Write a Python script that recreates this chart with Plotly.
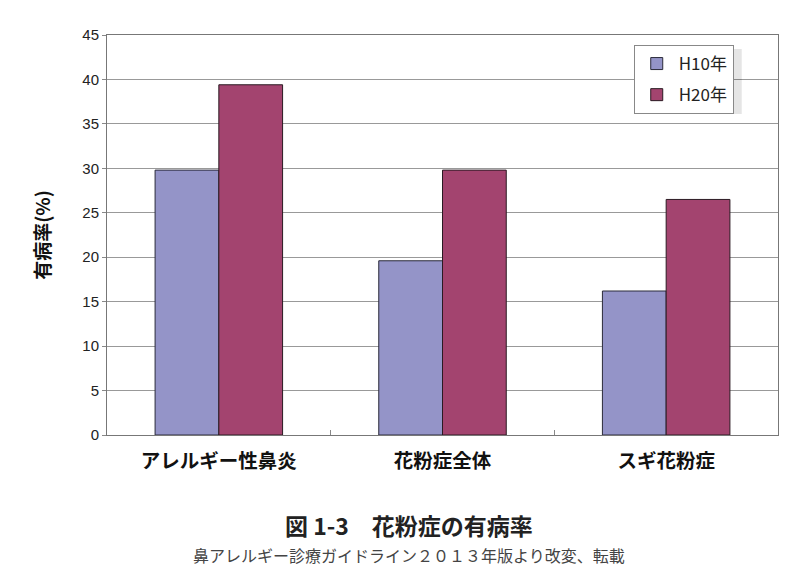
import plotly.graph_objects as go

categories = ["アレルギー性鼻炎", "花粉症全体", "スギ花粉症"]
h10 = [29.8, 19.6, 16.2]
h20 = [39.4, 29.8, 26.5]
series_names = ["H10年", "H20年"]
y_ticks = [0, 5, 10, 15, 20, 25, 30, 35, 40, 45]

JP = "Noto Sans CJK JP, Liberation Sans, Arial, sans-serif"
NUM = "Liberation Sans, Arial, sans-serif"

fig = go.Figure()
fig.add_bar(x=categories, y=h10, name=series_names[0], legendgroup="a",
            marker=dict(color="#9494C8", line=dict(color="#2a2a3a", width=1)))
fig.add_bar(x=categories, y=h20, name=series_names[1], legendgroup="b",
            marker=dict(color="#A3446F", line=dict(color="#2a1a22", width=1)))

fig.update_layout(
    width=805, height=579,
    margin=dict(l=107, r=27, t=35, b=144),
    paper_bgcolor="white", plot_bgcolor="white",
    barmode="group", bargap=0.43, bargroupgap=0,
    font=dict(family=NUM, color="#222"),
    showlegend=True,
    legend=dict(x=0.785, y=0.975, xanchor="left", yanchor="top",
                bgcolor="white", bordercolor="#888", borderwidth=1,
                font=dict(family=JP, size=17, color="#222"),
                itemwidth=34, tracegroupgap=6),
    xaxis=dict(showline=True, linecolor="#777", linewidth=1, mirror=True,
               tickson="boundaries", ticks="inside", ticklen=5, tickcolor="#888",
               tickvals=categories, ticktext=["<b>%s</b>" % c for c in categories],
               ticklabelstandoff=9,
               tickfont=dict(family=JP, size=19.5, color="#111"),
               ),
    yaxis=dict(range=[0, 45], tickvals=y_ticks, showline=True, linecolor="#777",
               linewidth=1, mirror=True, showgrid=True, gridcolor="#999",
               gridwidth=1, ticks="outside", ticklen=4, tickcolor="#888",
               tickfont=dict(family=NUM, size=15, color="#222"),
               title=dict(text="<b>有病率(%)</b>", font=dict(family=JP, size=19, color="#111"),
                          standoff=26),
               zeroline=False),
    shapes=[dict(type="rect", xref="paper", yref="paper",
                 x0=0.791, x1=0.946, y0=0.8025, y1=0.965,
                 fillcolor="rgba(0,0,0,0.10)", line=dict(width=0), layer="above")],
    annotations=[
        dict(text="<b>図 1-3　花粉症の有病率</b>", xref="paper", yref="paper",
             x=0.5 - 0.05, y=-0.225, xanchor="center", yanchor="middle", showarrow=False,
             font=dict(family=JP, size=23, color="#222")),
        dict(text="鼻アレルギー診療ガイドライン２０１３年版より改変、転載", xref="paper", yref="paper",
             x=0.5 - 0.05, y=-0.30, xanchor="center", yanchor="middle", showarrow=False,
             font=dict(family=JP, size=16, color="#444")),
    ],
)

fig.write_html("out.html")
